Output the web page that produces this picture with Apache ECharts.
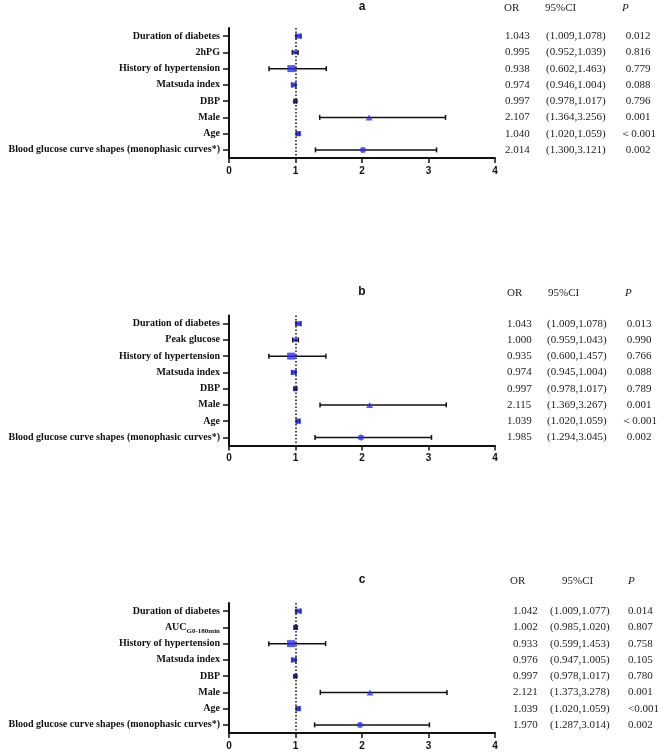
<!DOCTYPE html>
<html><head><meta charset="utf-8">
<script src="https://cdn.jsdelivr.net/npm/echarts@6/dist/echarts.min.js"></script>
<style>html,body{margin:0;padding:0;background:#fff}#c{width:669px;height:752px}</style>
</head><body><div id="c"></div>
<script>
// ---------- data ----------
const panelTitles = ['a', 'b', 'c'];
const categoriesA = ['Duration of diabetes', '2hPG', 'History of hypertension', 'Matsuda index', 'DBP', 'Male', 'Age', 'Blood glucose curve shapes (monophasic curves*)'];
const categoriesB = ['Duration of diabetes', 'Peak glucose', 'History of hypertension', 'Matsuda index', 'DBP', 'Male', 'Age', 'Blood glucose curve shapes (monophasic curves*)'];
const categoriesC = ['Duration of diabetes', 'AUC_G0-180min', 'History of hypertension', 'Matsuda index', 'DBP', 'Male', 'Age', 'Blood glucose curve shapes (monophasic curves*)'];

const orA = [1.043, 0.995, 0.938, 0.974, 0.997, 2.107, 1.040, 2.014];
const loA = [1.009, 0.952, 0.602, 0.946, 0.978, 1.364, 1.020, 1.300];
const hiA = [1.078, 1.039, 1.463, 1.004, 1.017, 3.256, 1.059, 3.121];
const pA  = ['0.012', '0.816', '0.779', '0.088', '0.796', '0.001', '＜0.001', '0.002'];

const orB = [1.043, 1.000, 0.935, 0.974, 0.997, 2.115, 1.039, 1.985];
const loB = [1.009, 0.959, 0.600, 0.945, 0.978, 1.369, 1.020, 1.294];
const hiB = [1.078, 1.043, 1.457, 1.004, 1.017, 3.267, 1.059, 3.045];
const pB  = ['0.013', '0.990', '0.766', '0.088', '0.789', '0.001', '＜0.001', '0.002'];

const orC = [1.042, 1.002, 0.933, 0.976, 0.997, 2.121, 1.039, 1.970];
const loC = [1.009, 0.985, 0.599, 0.947, 0.978, 1.373, 1.020, 1.287];
const hiC = [1.077, 1.020, 1.453, 1.005, 1.017, 3.278, 1.059, 3.014];
const pC  = ['0.014', '0.807', '0.758', '0.105', '0.780', '0.001', '<0.001', '0.002'];

const xTicks = [0, 1, 2, 3, 4];
const tableHeaders = ['OR', '95%CI', 'P'];
const refLine = 1;

// ---------- styles ----------
const markerShapes = ['rect', 'rect', 'rect', 'rect', 'circle', 'triangle', 'rect', 'circle'];
const markerSizesA = [[7, 5], [5, 4], [8, 7], [6, 5], [5, 5], [7, 6], [6, 5], [6, 6]];
const markerSizesB = [[7, 5], [4, 4], [8, 7], [6, 5], [5, 5], [7, 6], [6, 5], [6, 6]];
const markerSizesC = [[7, 5], [5, 5], [8, 7], [6, 5], [5, 5], [7, 6], [6, 5], [6, 6]];
const markerColorsA = ['#2e2ef2', '#2e2ef2', '#2e2ef2', '#2e2ef2', '#1d1d8c', '#2e2ef2', '#2e2ef2', '#2e2ef2'];
const markerColorsC = ['#2e2ef2', '#1d1d8c', '#2e2ef2', '#2e2ef2', '#1d1d8c', '#2e2ef2', '#2e2ef2', '#2e2ef2'];

const panels = [
  { cats: categoriesA, or: orA, lo: loA, hi: hiA, p: pA, sizes: markerSizesA, colors: markerColorsA,
    top: 28, titleY: 7, hdr: [504, 545, 622], margin: 10, wOR: 41, wCI: 79, pAlign: 'center', wP: 26 },
  { cats: categoriesB, or: orB, lo: loB, hi: hiB, p: pB, sizes: markerSizesB, colors: markerColorsA,
    top: 315.5, titleY: 292, hdr: [507, 548, 625], margin: 12, wOR: 40, wCI: 79, pAlign: 'center', wP: 26 },
  { cats: categoriesC, or: orC, lo: loC, hi: hiC, p: pC, sizes: markerSizesC, colors: markerColorsC,
    top: 603, titleY: 580, hdr: [510, 562, 628], margin: 18, wOR: 37, wCI: 78, pAlign: 'left', wP: 40 }
];

const SERIF = '"Liberation Serif","Times New Roman",serif';
const SANS = '"Liberation Sans",Arial,sans-serif';
const GRID_LEFT = 229, GRID_RIGHT_X = 495, GRID_H = 130;

const grids = [], xAxes = [], yAxes = [], series = [], graphics = [];

panels.forEach((pn, k) => {
  grids.push({ left: GRID_LEFT, width: GRID_RIGHT_X - GRID_LEFT, top: pn.top, height: GRID_H, containLabel: false });
  xAxes.push({
    gridIndex: k, type: 'value', min: xTicks[0], max: xTicks[xTicks.length - 1], interval: 1,
    axisLine: { show: true, onZero: false, lineStyle: { color: '#111', width: 2 } },
    axisTick: { show: true, length: 5, lineStyle: { color: '#111', width: 1.5 } },
    axisLabel: { margin: 8, color: '#111', fontFamily: SANS, fontWeight: 'bold', fontSize: 10 },
    splitLine: { show: false }
  });
  yAxes.push({
    gridIndex: k, type: 'category', data: pn.cats, inverse: true,
    axisLine: { show: true, lineStyle: { color: '#111', width: 2 } },
    axisTick: { show: true, length: 6, alignWithLabel: true, lineStyle: { color: '#111', width: 1.5 } },
    axisLabel: {
      margin: 9, color: '#111', fontFamily: SERIF, fontWeight: 'bold', fontSize: 10,
      formatter: v => {
        const parts = v.split('_');
        return parts.length > 1 ? '{m|' + parts[0] + '}{s|' + parts[1] + '}' : '{m|' + v + '}';
      },
      rich: {
        m: { fontFamily: SERIF, fontWeight: 'bold', fontSize: 10, color: '#111' },
        s: { fontFamily: SERIF, fontWeight: 'bold', fontSize: 7, color: '#111', padding: [7, 0, 0, 0] }
      }
    },
    splitLine: { show: false }
  });
  // right-side table as axis labels
  yAxes.push({
    gridIndex: k, type: 'category', data: pn.cats, inverse: true, position: 'right',
    axisLine: { show: false }, axisTick: { show: false }, splitLine: { show: false },
    axisLabel: {
      margin: pn.margin,
      formatter: (v, i) => '{o|' + pn.or[i].toFixed(3) + '}{c|(' + pn.lo[i].toFixed(3) + ',' + pn.hi[i].toFixed(3) + ')}{p|' + pn.p[i] + '}',
      rich: {
        o: { width: pn.wOR, align: 'left', fontFamily: SERIF, fontSize: 11, color: '#222' },
        c: { width: pn.wCI, align: 'left', fontFamily: SERIF, fontSize: 11, color: '#222' },
        p: { width: pn.wP, align: pn.pAlign, fontFamily: SERIF, fontSize: 11, color: '#222' }
      }
    }
  });
  const yIdx = k * 2;
  // error bars
  series.push({
    type: 'custom', xAxisIndex: k, yAxisIndex: yIdx, z: 2,
    data: pn.cats.map((c, i) => [pn.lo[i], pn.hi[i], i]),
    encode: { x: [0, 1], y: 2 },
    renderItem: (params, api) => {
      const a = api.coord([api.value(0), api.value(2)]);
      const b = api.coord([api.value(1), api.value(2)]);
      const cap = 2.5;
      const st = { stroke: '#111', lineWidth: 1.5 };
      return { type: 'group', children: [
        { type: 'line', shape: { x1: a[0], y1: a[1], x2: b[0], y2: b[1] }, style: st },
        { type: 'line', shape: { x1: a[0], y1: a[1] - cap, x2: a[0], y2: a[1] + cap }, style: st },
        { type: 'line', shape: { x1: b[0], y1: b[1] - cap, x2: b[0], y2: b[1] + cap }, style: st }
      ]};
    }
  });
  // point estimates
  series.push({
    type: 'scatter', xAxisIndex: k, yAxisIndex: yIdx, z: 3,
    data: pn.cats.map((c, i) => ({
      value: [pn.or[i], i], symbol: markerShapes[i], symbolSize: pn.sizes[i],
      itemStyle: { color: pn.colors[i] }
    })),
    markLine: {
      silent: true, symbol: ['none', 'none'], label: { show: false }, animation: false,
      lineStyle: { color: '#111', type: [1.5, 2], width: 1.5 },
      data: [{ xAxis: refLine }]
    }
  });
  // panel title + table headers
  graphics.push({ type: 'text', x: (GRID_LEFT + GRID_RIGHT_X) / 2, y: pn.titleY,
    style: { text: panelTitles[k], font: 'bold 12px ' + SANS, fill: '#111', align: 'center', verticalAlign: 'middle' } });
  tableHeaders.forEach((h, j) => {
    graphics.push({ type: 'text', x: pn.hdr[j], y: pn.titleY + 1,
      style: { text: h, font: (j === 2 ? 'italic ' : '') + '11px ' + SERIF, fill: '#222', align: 'left', verticalAlign: 'middle' } });
  });
});

const chart = echarts.init(document.getElementById('c'), null, { renderer: 'canvas' });
chart.setOption({
  backgroundColor: '#fff', animation: false,
  grid: grids, xAxis: xAxes, yAxis: yAxes, series: series, graphic: graphics
});
</script>
</body></html>
